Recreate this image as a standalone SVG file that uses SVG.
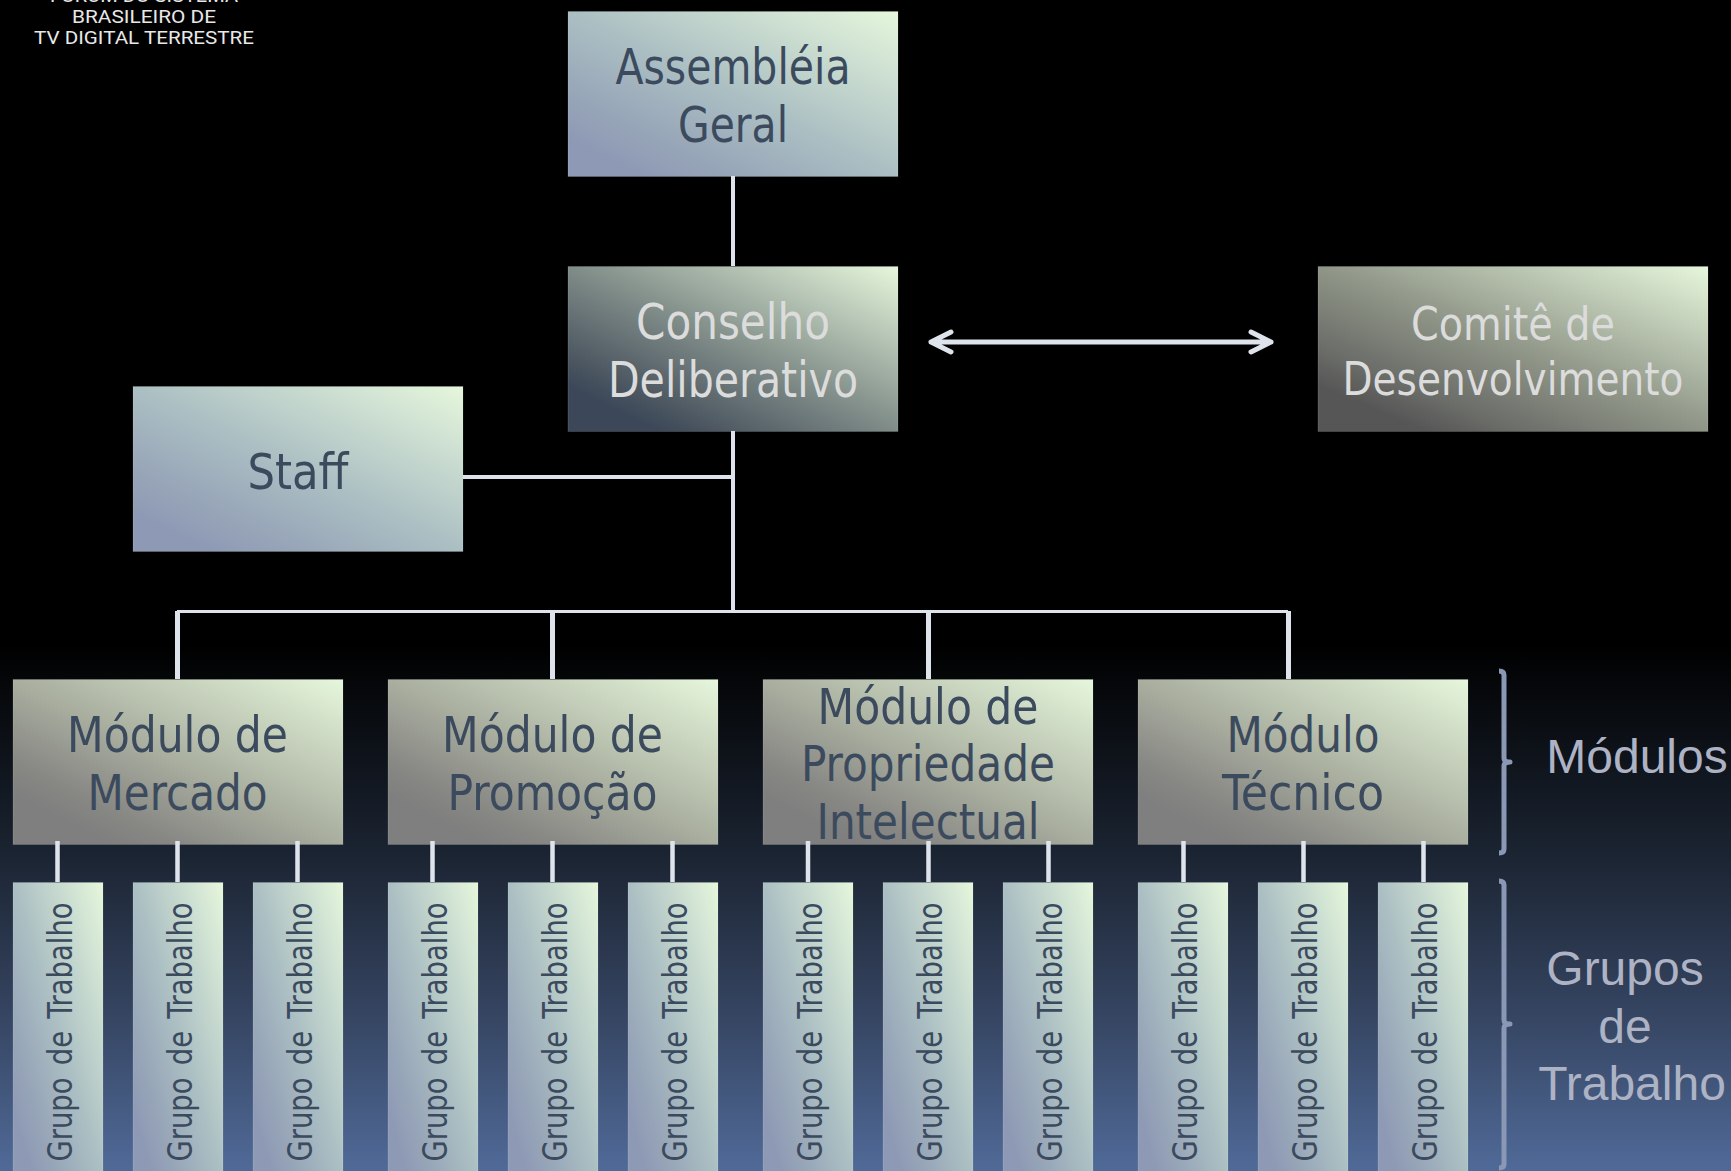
<svg xmlns="http://www.w3.org/2000/svg" width="1731" height="1171" viewBox="0 0 1731 1171">
<style>
.b{stroke:#fff;stroke-opacity:.12;stroke-width:1}
.t{font-family:"DejaVu Sans Condensed","DejaVu Sans",sans-serif;font-size:49px;text-anchor:middle;fill:#3c4a5e}
.l{fill:#dcdcdc}
.g{font-size:34px;word-spacing:4px}
.s{font-family:"Liberation Sans",Arial,sans-serif;font-size:48px;text-anchor:middle;fill:#adb3c4}
.logo{font-family:Roboto,"Noto Sans",sans-serif;font-size:18px;text-anchor:middle;fill:#e8e8e8}
.c{fill:none;stroke:#dfe3ec;stroke-width:4}
.k{fill:none;stroke:#8a97b5;stroke-width:5;stroke-linejoin:round}
</style>
<defs>
<linearGradient id="bg" x1="0" y1="0" x2="0" y2="1"><stop offset="0" stop-color="#000"/><stop offset=".55" stop-color="#000"/><stop offset=".73" stop-color="#1b2432"/><stop offset=".86" stop-color="#34435f"/><stop offset="1" stop-color="#506a98"/></linearGradient>
<linearGradient id="ga" x1="0" y1="1" x2="1" y2="0"><stop offset=".12" stop-color="#8e9ab5"/><stop offset=".25" stop-color="#97a5b8"/><stop offset=".5" stop-color="#abbfc3"/><stop offset="1" stop-color="#e6f7dc"/></linearGradient>
<linearGradient id="gc" x1="0" y1="1" x2="1" y2="0"><stop offset=".14" stop-color="#3c4759"/><stop offset=".25" stop-color="#505b64"/><stop offset=".5" stop-color="#7f8c88"/><stop offset="1" stop-color="#e6f7dc"/></linearGradient>
<linearGradient id="gd" x1="0" y1="1" x2="1" y2="0"><stop offset=".14" stop-color="#565656"/><stop offset=".25" stop-color="#6a6c68"/><stop offset=".5" stop-color="#8f9587"/><stop offset="1" stop-color="#e6f7dc"/></linearGradient>
<linearGradient id="gm" x1="0" y1="1" x2="1" y2="0"><stop offset=".15" stop-color="#7f7f7f"/><stop offset=".25" stop-color="#878784"/><stop offset=".5" stop-color="#a9ae9f"/><stop offset="1" stop-color="#e6f7dc"/></linearGradient>
</defs>
<rect width="1731" height="1171" fill="url(#bg)"/>
<g id="logo" class="logo">
<text x="144" y="2" textLength="188" lengthAdjust="spacingAndGlyphs">FÓRUM DO SISTEMA</text>
<text x="144" y="23" textLength="144" lengthAdjust="spacingAndGlyphs">BRASILEIRO DE</text>
<text x="144" y="44" textLength="220" lengthAdjust="spacingAndGlyphs">TV DIGITAL TERRESTRE</text>
</g>
<g id="assembleia"><rect class="b" x="568" y="11.5" width="330" height="165" fill="url(#ga)"/><text class="t" x="733" y="84" textLength="235" lengthAdjust="spacingAndGlyphs">Assembléia</text><text class="t" x="733" y="142" textLength="110" lengthAdjust="spacingAndGlyphs">Geral</text></g>
<g id="conselho"><rect class="b" x="568" y="266.5" width="330" height="165" fill="url(#gc)"/><text class="t l" x="733" y="339" textLength="194" lengthAdjust="spacingAndGlyphs">Conselho</text><text class="t l" x="733" y="397" textLength="250" lengthAdjust="spacingAndGlyphs">Deliberativo</text></g>
<g id="comite"><rect class="b" x="1318" y="266.5" width="390" height="165" fill="url(#gd)"/><text class="t l" x="1513" y="340" textLength="204" lengthAdjust="spacingAndGlyphs" style="font-size:47px">Comitê de</text><text class="t l" x="1513" y="395" textLength="341" lengthAdjust="spacingAndGlyphs" style="font-size:47px">Desenvolvimento</text></g>
<g id="staff"><rect class="b" x="133" y="386.5" width="330" height="165" fill="url(#ga)"/><text class="t" x="298" y="489" textLength="101" lengthAdjust="spacingAndGlyphs">Staff</text></g>
<g id="mod1"><rect class="b" x="13" y="679.5" width="330" height="165" fill="url(#gm)"/><text class="t" x="177.500" y="752" textLength="221" lengthAdjust="spacingAndGlyphs">Módulo de</text><text class="t" x="177.500" y="810" textLength="180" lengthAdjust="spacingAndGlyphs">Mercado</text></g>
<g id="mod2"><rect class="b" x="388" y="679.5" width="330" height="165" fill="url(#gm)"/><text class="t" x="552.500" y="752" textLength="221" lengthAdjust="spacingAndGlyphs">Módulo de</text><text class="t" x="552.500" y="810" textLength="210" lengthAdjust="spacingAndGlyphs">Promoção</text></g>
<g id="mod3"><rect class="b" x="763" y="679.5" width="330" height="165" fill="url(#gm)"/><text class="t" x="928" y="724" textLength="221" lengthAdjust="spacingAndGlyphs">Módulo de</text><text class="t" x="928" y="781" textLength="254" lengthAdjust="spacingAndGlyphs">Propriedade</text><text class="t" x="928" y="839" textLength="223" lengthAdjust="spacingAndGlyphs">Intelectual</text></g>
<g id="mod4"><rect class="b" x="1138" y="679.5" width="330" height="165" fill="url(#gm)"/><text class="t" x="1303" y="752" textLength="153" lengthAdjust="spacingAndGlyphs">Módulo</text><text class="t" x="1303" y="810" textLength="162" lengthAdjust="spacingAndGlyphs">Técnico</text></g>
<g id="gt1"><rect class="b" x="13" y="882.5" width="90" height="298" fill="url(#ga)"/><text class="t g" transform="translate(72 1032) rotate(-90)" textLength="259" lengthAdjust="spacingAndGlyphs">Grupo de Trabalho</text></g>
<g id="gt2"><rect class="b" x="133" y="882.5" width="90" height="298" fill="url(#ga)"/><text class="t g" transform="translate(192 1032) rotate(-90)" textLength="259" lengthAdjust="spacingAndGlyphs">Grupo de Trabalho</text></g>
<g id="gt3"><rect class="b" x="253" y="882.5" width="90" height="298" fill="url(#ga)"/><text class="t g" transform="translate(312 1032) rotate(-90)" textLength="259" lengthAdjust="spacingAndGlyphs">Grupo de Trabalho</text></g>
<g id="gt4"><rect class="b" x="388" y="882.5" width="90" height="298" fill="url(#ga)"/><text class="t g" transform="translate(447 1032) rotate(-90)" textLength="259" lengthAdjust="spacingAndGlyphs">Grupo de Trabalho</text></g>
<g id="gt5"><rect class="b" x="508" y="882.5" width="90" height="298" fill="url(#ga)"/><text class="t g" transform="translate(567 1032) rotate(-90)" textLength="259" lengthAdjust="spacingAndGlyphs">Grupo de Trabalho</text></g>
<g id="gt6"><rect class="b" x="628" y="882.5" width="90" height="298" fill="url(#ga)"/><text class="t g" transform="translate(687 1032) rotate(-90)" textLength="259" lengthAdjust="spacingAndGlyphs">Grupo de Trabalho</text></g>
<g id="gt7"><rect class="b" x="763" y="882.5" width="90" height="298" fill="url(#ga)"/><text class="t g" transform="translate(822 1032) rotate(-90)" textLength="259" lengthAdjust="spacingAndGlyphs">Grupo de Trabalho</text></g>
<g id="gt8"><rect class="b" x="883" y="882.5" width="90" height="298" fill="url(#ga)"/><text class="t g" transform="translate(942 1032) rotate(-90)" textLength="259" lengthAdjust="spacingAndGlyphs">Grupo de Trabalho</text></g>
<g id="gt9"><rect class="b" x="1003" y="882.5" width="90" height="298" fill="url(#ga)"/><text class="t g" transform="translate(1062 1032) rotate(-90)" textLength="259" lengthAdjust="spacingAndGlyphs">Grupo de Trabalho</text></g>
<g id="gt10"><rect class="b" x="1138" y="882.5" width="90" height="298" fill="url(#ga)"/><text class="t g" transform="translate(1197 1032) rotate(-90)" textLength="259" lengthAdjust="spacingAndGlyphs">Grupo de Trabalho</text></g>
<g id="gt11"><rect class="b" x="1258" y="882.5" width="90" height="298" fill="url(#ga)"/><text class="t g" transform="translate(1317 1032) rotate(-90)" textLength="259" lengthAdjust="spacingAndGlyphs">Grupo de Trabalho</text></g>
<g id="gt12"><rect class="b" x="1378" y="882.5" width="90" height="298" fill="url(#ga)"/><text class="t g" transform="translate(1437 1032) rotate(-90)" textLength="259" lengthAdjust="spacingAndGlyphs">Grupo de Trabalho</text></g>
<g id="connectors">
<path class="c" d="M733 176V266M733 431V611M463 477H733"/>
<path class="c" style="stroke-width:3" d="M177 611.500H1288"/>
<path class="c" style="stroke-width:5" d="M177.500 611V679M552.500 611V679M928.500 611V679M1288.500 611V679"/>
<path class="c" style="stroke-width:4.500" d="M57.500 841V882M177.500 841V882M297.500 841V882M432.500 841V882M552.500 841V882M672.500 841V882M808 841V882M928.500 841V882M1048.500 841V882M1183.500 841V882M1303.500 841V882M1423.500 841V882"/>
<path class="c" style="stroke-width:5;stroke-linecap:round;stroke-linejoin:round" d="M931 342H1271M951 332L931 342L951 352M1251 332L1271 342L1251 352"/>
</g>
<g id="bracket-modulos"><path class="k" d="M1499 671Q1504 671 1504 675V758Q1504 762 1510 762Q1504 762 1504 766V849Q1504 853 1499 853"/></g>
<g id="bracket-grupos"><path class="k" d="M1499 881Q1504 881 1504 885V1020Q1504 1024 1510 1024Q1504 1024 1504 1028V1164Q1504 1168 1499 1168"/></g>
<g id="label-modulos"><text class="s" x="1637" y="773">Módulos</text></g>
<g id="label-grupos"><text class="s" x="1625" y="985">Grupos</text><text class="s" x="1625" y="1043">de</text><text class="s" x="1632" y="1100">Trabalho</text></g>
</svg>
